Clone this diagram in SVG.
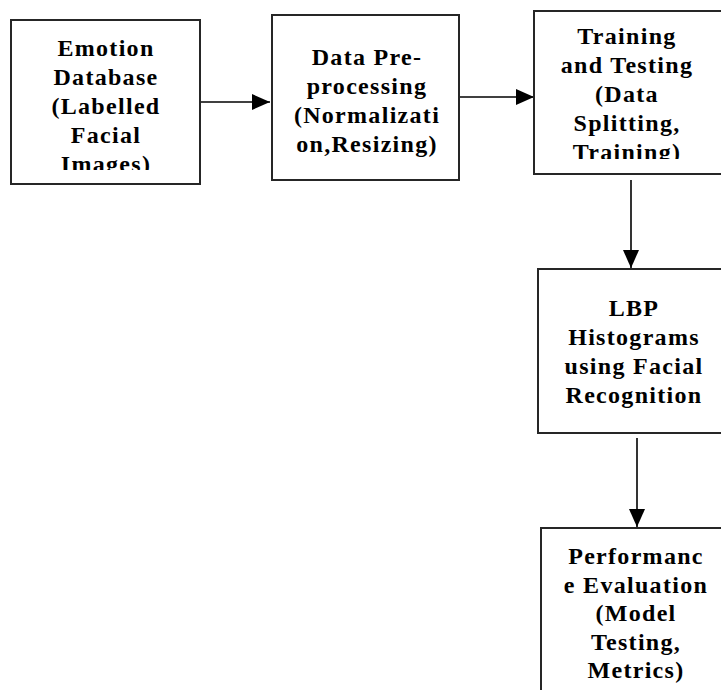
<svg xmlns="http://www.w3.org/2000/svg" width="721" height="690" viewBox="0 0 721 690">
<style>
.box{fill:#fff;stroke:#262626;stroke-width:2}
.t{font-weight:bold;font-size:24px;letter-spacing:1.3px;text-anchor:middle;fill:#000}
.c{stroke:#000;stroke-width:1.6;fill:none}
</style>
<defs>
<marker id="ah" markerWidth="18" markerHeight="16" refX="18" refY="8" orient="auto" markerUnits="userSpaceOnUse">
<path d="M0,0 L18,8 L0,16 Z" fill="#000"/>
</marker>
<clipPath id="c1"><rect x="11" y="20" width="189" height="150"/></clipPath>
<clipPath id="c3"><rect x="534" y="11" width="190" height="148"/></clipPath>
</defs>
<rect width="721" height="690" fill="#fff"/>
<g id="connectors">
<line class="c" x1="200" y1="102" x2="270" y2="102" marker-end="url(#ah)"/>
<line class="c" x1="460" y1="97" x2="534" y2="97" marker-end="url(#ah)"/>
<line class="c" x1="631" y1="180" x2="631" y2="268" marker-end="url(#ah)"/>
<line class="c" x1="637" y1="438" x2="637" y2="527" marker-end="url(#ah)"/>
</g>
<g font-family="Liberation Serif, Times New Roman, serif">
<g id="n1">
<rect class="box" x="11" y="20" width="189" height="164"/>
<g clip-path="url(#c1)">
<text class="t" x="106" y="56">Emotion</text>
<text class="t" x="106" y="85">Database</text>
<text class="t" x="106" y="114">(Labelled</text>
<text class="t" x="106" y="143">Facial</text>
<text class="t" x="106" y="172">Images)</text>
</g>
</g>
<g id="n2">
<rect class="box" x="272" y="15" width="187" height="165"/>
<text class="t" x="367" y="65">Data Pre-</text>
<text class="t" x="367" y="94">processing</text>
<text class="t" x="367" y="123">(Normalizati</text>
<text class="t" x="367" y="152">on,Resizing)</text>
</g>
<g id="n3">
<rect class="box" x="534" y="11" width="192" height="163"/>
<g clip-path="url(#c3)">
<text class="t" x="627" y="44">Training</text>
<text class="t" x="627" y="73">and Testing</text>
<text class="t" x="627" y="102">(Data</text>
<text class="t" x="627" y="131">Splitting,</text>
<text class="t" x="627" y="160">Training)</text>
</g>
</g>
<g id="n4">
<rect class="box" x="538" y="269" width="192" height="164"/>
<text class="t" x="634" y="316">LBP</text>
<text class="t" x="634" y="345">Histograms</text>
<text class="t" x="634" y="374">using Facial</text>
<text class="t" x="634" y="403">Recognition</text>
</g>
<g id="n5">
<rect class="box" x="541" y="528" width="192" height="170"/>
<text class="t" x="636" y="564">Performanc</text>
<text class="t" x="636" y="593">e Evaluation</text>
<text class="t" x="636" y="621">(Model</text>
<text class="t" x="636" y="650">Testing,</text>
<text class="t" x="636" y="678">Metrics)</text>
</g>
</g>
</svg>
